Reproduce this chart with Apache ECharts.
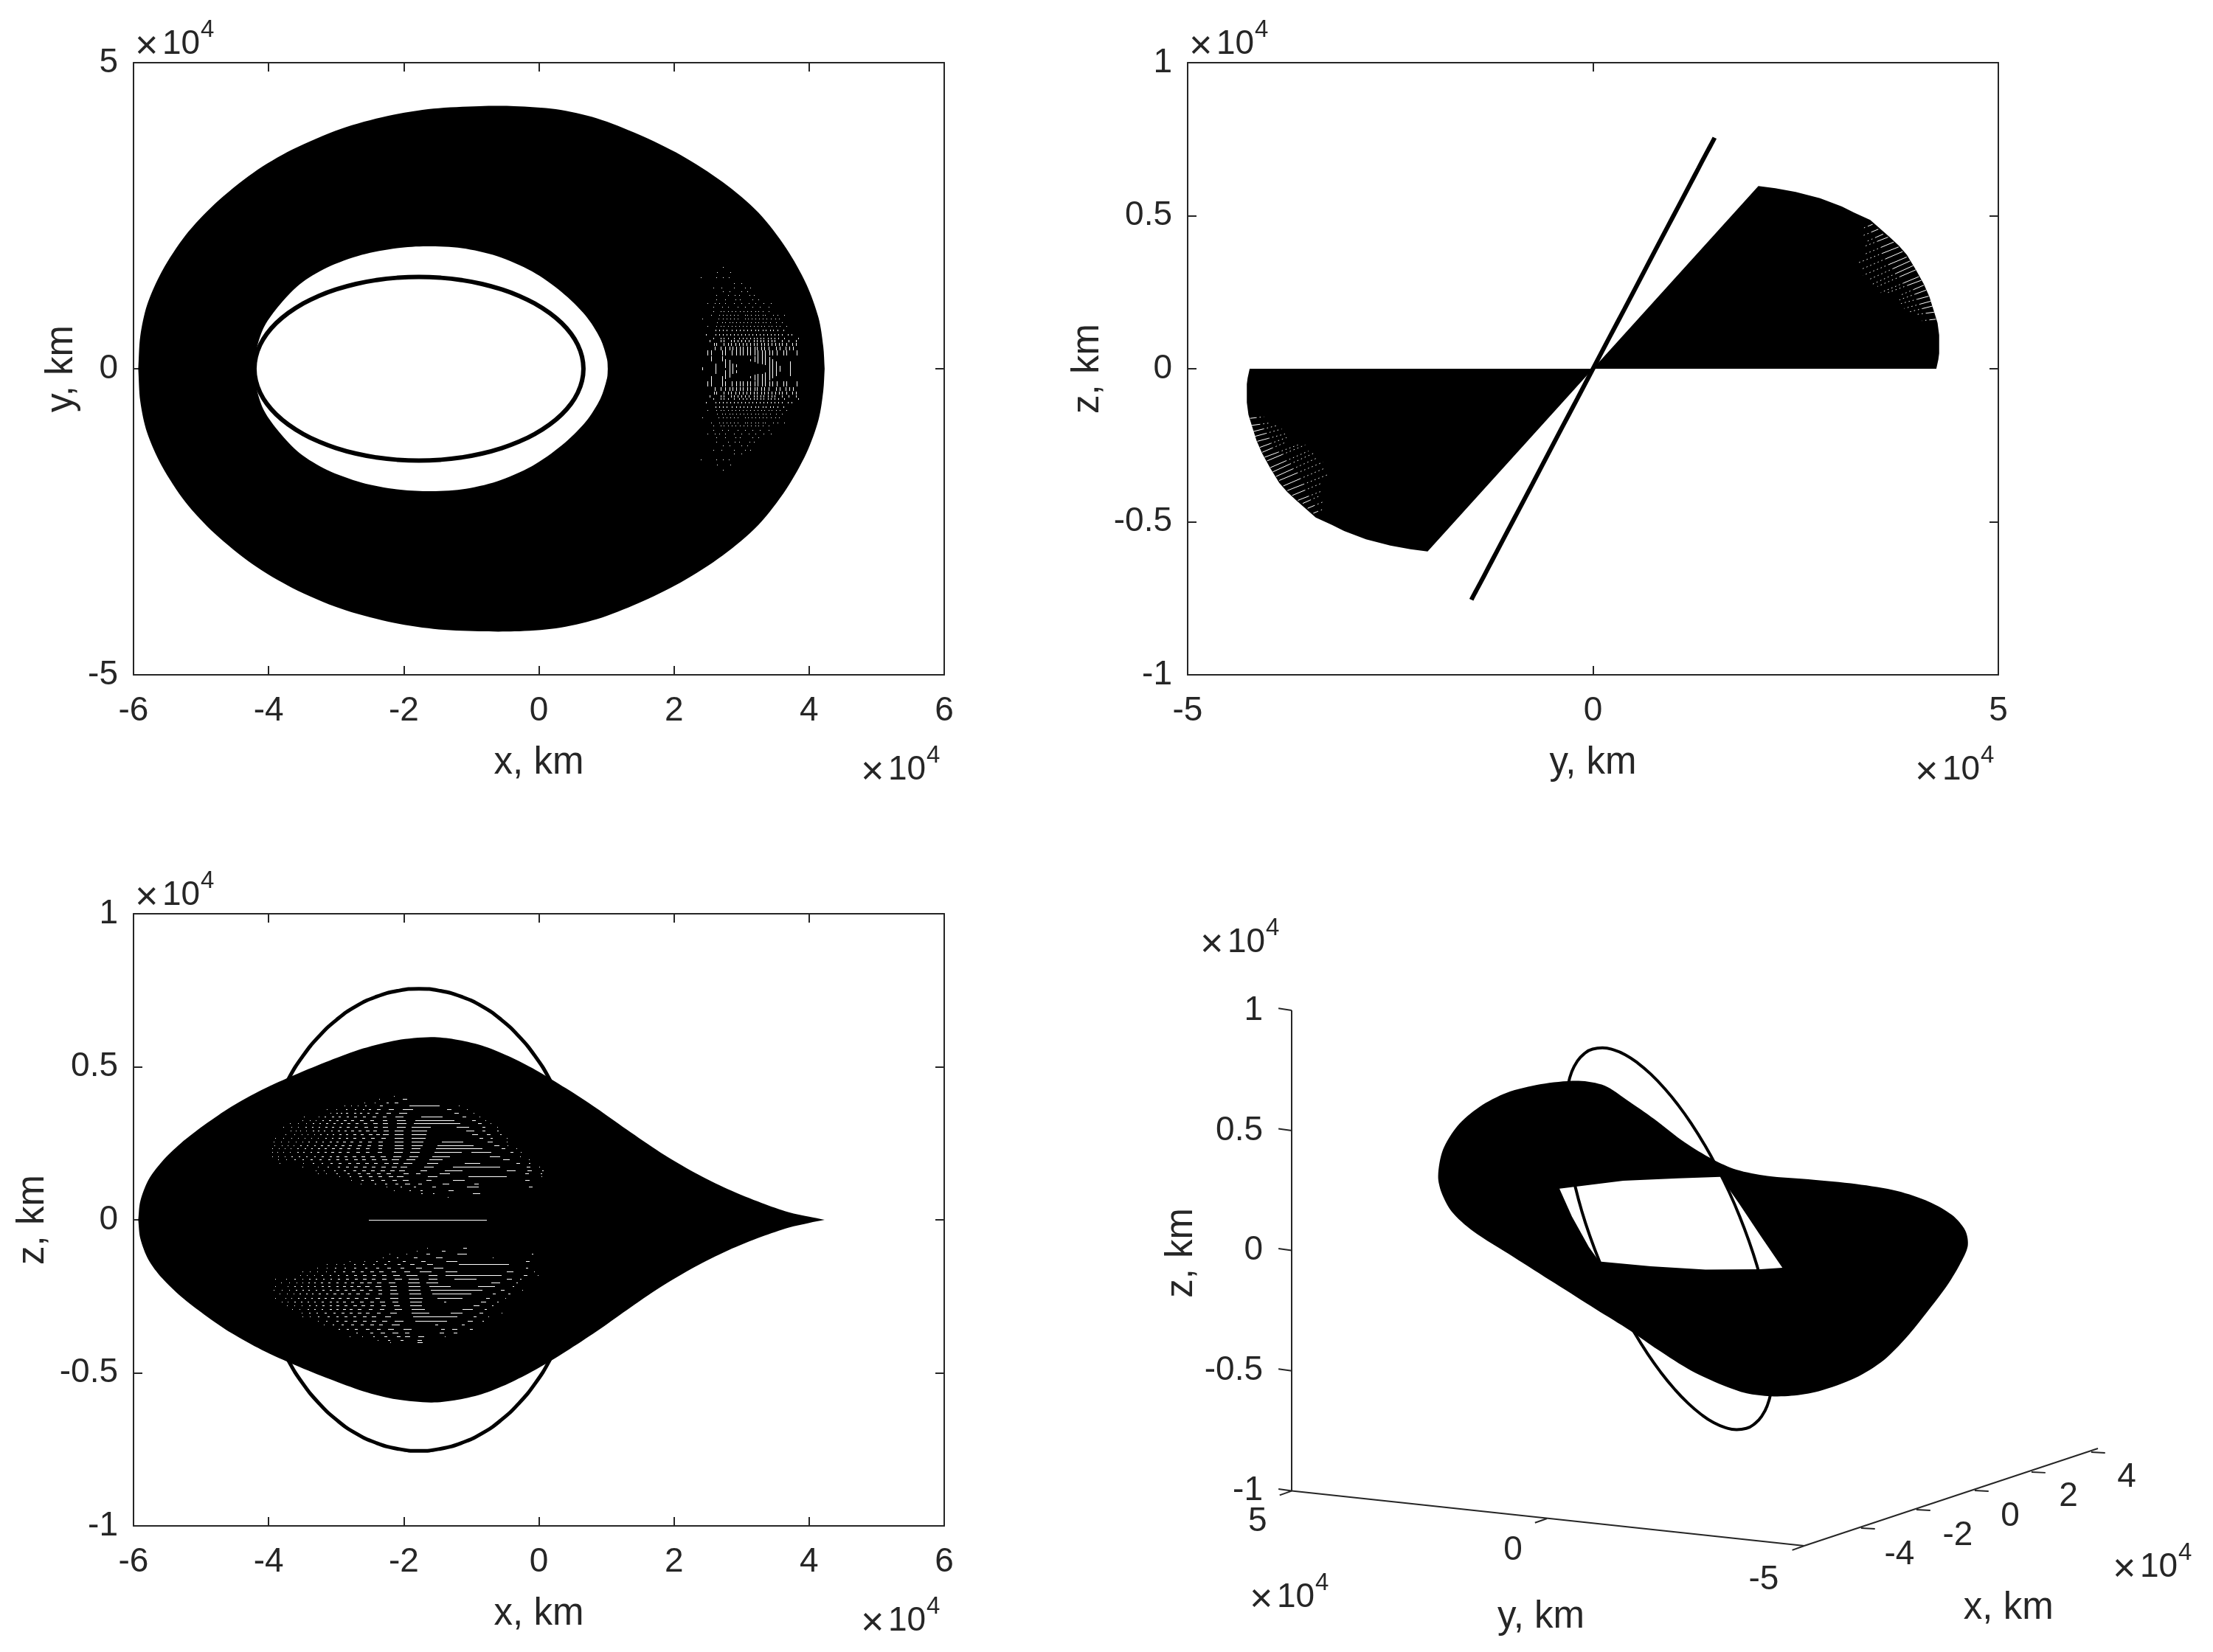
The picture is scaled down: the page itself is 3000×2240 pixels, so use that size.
<!DOCTYPE html>
<html>
<head>
<meta charset="utf-8">
<title>orbit projections</title>
<script src="https://cdn.jsdelivr.net/npm/echarts@6/dist/echarts.min.js"></script>
<style>
  html, body { margin: 0; background: #fff; }
  #chart { width: 3000px; height: 2240px; }
</style>
</head>
<body>
<div id="chart"></div>
<script>
// all values in units of 1e4 km, the axes carry the x10^4 factor

// reference orbit, one lap
const orbitX = [0.66, 0.639, 0.577, 0.475, 0.334, 0.157, -0.053, -0.293, -0.558, -0.843, -1.145, -1.457, -1.775, -2.093, -2.405, -2.707, -2.992, -3.257, -3.497, -3.707, -3.884, -4.025, -4.127, -4.189, -4.21, -4.189, -4.127, -4.025, -3.884, -3.707, -3.497, -3.257, -2.992, -2.707, -2.405, -2.093, -1.775, -1.457, -1.145, -0.843, -0.558, -0.293, -0.053, 0.157, 0.334, 0.475, 0.577, 0.639, 0.66];
const orbitY = [0, 0.196, 0.388, 0.574, 0.75, 0.913, 1.061, 1.19, 1.299, 1.386, 1.449, 1.487, 1.5, 1.487, 1.449, 1.386, 1.299, 1.19, 1.061, 0.913, 0.75, 0.574, 0.388, 0.196, 0, -0.196, -0.388, -0.574, -0.75, -0.913, -1.061, -1.19, -1.299, -1.386, -1.449, -1.487, -1.5, -1.487, -1.449, -1.386, -1.299, -1.19, -1.061, -0.913, -0.75, -0.574, -0.388, -0.196, 0];
const orbitZ = [0, 0.099, 0.195, 0.289, 0.378, 0.46, 0.534, 0.599, 0.654, 0.698, 0.729, 0.748, 0.755, 0.748, 0.729, 0.698, 0.654, 0.599, 0.534, 0.46, 0.378, 0.289, 0.195, 0.099, 0, -0.099, -0.195, -0.289, -0.378, -0.46, -0.534, -0.599, -0.654, -0.698, -0.729, -0.748, -0.755, -0.748, -0.729, -0.698, -0.654, -0.599, -0.534, -0.46, -0.378, -0.289, -0.195, -0.099, 0];

// x-y view: upper half of the band, the lower half mirrors it
const xyOuterX = [-5.93, -5.9, -5.8, -5.58, -5.23, -4.8, -4.23, -3.65, -2.93, -2.24, -1.56, -0.88, -0.36, 0.25, 0.86, 1.47, 2.1, 2.72, 3.25, 3.66, 3.96, 4.14, 4.21, 4.23];
const xyOuterY = [0, 0.53, 1.04, 1.59, 2.18, 2.69, 3.2, 3.58, 3.92, 4.13, 4.25, 4.29, 4.29, 4.24, 4.09, 3.83, 3.49, 3.05, 2.55, 1.97, 1.38, 0.83, 0.36, 0];
const xyInnerX = [-4.21, -4.17, -4.06, -3.84, -3.54, -3.14, -2.62, -2.1, -1.66, -1.14, -0.62, -0.1, 0.34, 0.69, 0.91, 1.01, 1.02];
const xyInnerY = [0, 0.36, 0.7, 1.04, 1.38, 1.65, 1.86, 1.97, 2, 1.97, 1.84, 1.59, 1.25, 0.87, 0.49, 0.15, 0];

// x-y view: gaps in the band, mirrored about y = 0. [y, dash length, x, x, ...]
const xyGapRows = [
  [1.655, 0.01, 2.72], [1.57, 0.01, 2.64, 2.83], [1.48, 0.01, 2.4, 2.63, 2.72, 2.81],
  [1.39, 0.01, 2.89, 3.0], [1.32, 0.01, 2.58, 2.7, 2.89, 3.05, 3.13],
  [1.25, 0.01, 2.72, 2.82, 3.0, 3.09], [1.19, 0.01, 2.63, 2.8, 2.9, 2.96, 3.12, 3.18],
  [1.12, 0.01, 2.63, 2.76, 2.91, 2.98, 3.16, 3.25],
  [1.06, 0.01, 2.5, 2.6, 2.67, 2.76, 2.89, 3.0, 3.11, 3.2, 3.33, 3.43],
  [1.0, 0.01, 2.58, 2.71, 2.8, 2.94, 3.05, 3.16, 3.27, 3.4],
  [0.93, 0.01, 2.58, 2.69, 2.74, 2.8, 2.85, 2.91, 2.98, 3.03, 3.09, 3.14, 3.2, 3.25, 3.31, 3.4],
  [0.875, 0.01, 2.55, 2.67, 2.72, 2.78, 2.83, 2.89, 2.94, 3.05, 3.09, 3.14, 3.2, 3.25, 3.31, 3.35, 3.47, 3.53, 3.63],
  [0.8, 0.015, 2.42, 2.66, 2.72, 2.78, 2.83, 2.89, 2.94, 3.05, 3.1, 3.15, 3.21, 3.26, 3.31, 3.37, 3.43, 3.5, 3.55],
  [0.74, 0.015, 2.64, 2.71, 2.76, 2.82, 2.87, 2.92, 2.98, 3.03, 3.09, 3.14, 3.2, 3.25, 3.31, 3.36, 3.42, 3.51, 3.6],
  [0.68, 0.015, 2.49, 2.63, 2.69, 2.74, 2.8, 2.85, 2.91, 2.96, 3.02, 3.07, 3.13, 3.18, 3.24, 3.29, 3.34, 3.4, 3.45, 3.51, 3.56, 3.66],
  [0.62, 0.02, 2.62, 2.67, 2.72, 2.78, 2.85, 2.92, 2.98, 3.03, 3.09, 3.14, 3.2, 3.25, 3.31, 3.36, 3.42, 3.47, 3.53, 3.62],
  [0.54, 0.025, 2.47, 2.62, 2.67, 2.72, 2.78, 2.83, 2.89, 2.94, 3.0, 3.05, 3.11, 3.16, 3.22, 3.27, 3.33, 3.38, 3.43, 3.49, 3.54, 3.6, 3.69, 3.74],
  [0.48, 0.03, 2.58, 2.69, 2.74, 2.8, 2.89, 2.96, 3.02, 3.07, 3.13, 3.18, 3.23, 3.28, 3.33, 3.39, 3.43, 3.49, 3.54, 3.63, 3.84],
  [0.43, 0.04, 2.53, 2.69, 2.74, 2.84, 2.89, 2.94, 3.0, 3.05, 3.11, 3.18, 3.23, 3.28, 3.33, 3.39, 3.44, 3.49, 3.6, 3.7, 3.8],
  [0.37, 0.05, 2.59, 2.63, 2.74, 2.8, 2.84, 2.91, 2.96, 3.02, 3.07, 3.13, 3.18, 3.23, 3.29, 3.34, 3.39, 3.45, 3.5, 3.55, 3.6, 3.66, 3.75, 3.81],
  [0.3, 0.06, 2.6, 2.69, 2.76, 2.82, 2.87, 2.92, 2.98, 3.02, 3.08, 3.13, 3.19, 3.23, 3.29, 3.34, 3.4, 3.51, 3.56, 3.65, 3.71, 3.76],
  [0.21, 0.09, 2.5, 2.55, 2.71, 2.76, 2.86, 2.92, 2.97, 3.02, 3.08, 3.13, 3.19, 3.24, 3.3, 3.35, 3.41, 3.46, 3.52, 3.62, 3.66, 3.82]
];
// x-y view: long gaps next to the y = 0 line. [x, y from, y to]
const xyGapColumns = [
  [2.42, 0, 0.02], [2.55, 0.12, 0.2], [2.61, 0, 0.08], [2.71, 0.12, 0.21], [2.76, 0.02, 0.16], [2.82, 0, 0.14], [2.87, 0, 0.08],
  [2.92, 0.02, 0.07], [3.13, 0.12, 0.16], [3.19, 0.1, 0.2], [3.24, 0.09, 0.22], [3.3, 0.08, 0.22], [3.35, 0.06, 0.22],
  [3.41, 0, 0.19], [3.46, 0, 0.16], [3.51, 0, 0.12], [3.57, 0, 0.05], [3.72, 0, 0.12]
];

// y-z view: upper right wedge, the other wedge is the same turned through 180 degrees
const yzWedgeY = [0, 4.235, 4.26, 4.27, 4.27, 4.25, 4.2, 4.15, 4.08, 3.98, 3.87, 3.77, 3.66, 3.42, 3.22, 3.07, 2.8, 2.5, 2.25, 2.04];
const yzWedgeZ = [0, 0, 0.03, 0.05, 0.11, 0.15, 0.193, 0.235, 0.277, 0.325, 0.373, 0.403, 0.43, 0.486, 0.51, 0.53, 0.557, 0.578, 0.59, 0.597];
// y-z view: white slits along the wedge rim. [y1, z1, y2, z2], 1 = rim end
const yzSlits = [
  [3.45, 0.472, 3.33, 0.459], [3.52, 0.456, 3.33, 0.435], [3.58, 0.44, 3.36, 0.414], [3.64, 0.43, 3.33, 0.398],
  [3.71, 0.414, 3.34, 0.373], [3.77, 0.398, 3.28, 0.347], [3.82, 0.383, 3.31, 0.325], [3.87, 0.365, 3.33, 0.305],
  [3.91, 0.352, 3.4, 0.291], [3.95, 0.337, 3.42, 0.273], [3.98, 0.323, 3.51, 0.269], [4.02, 0.301, 3.55, 0.249],
  [4.05, 0.289, 3.64, 0.249], [4.08, 0.273, 3.78, 0.239], [4.11, 0.257, 3.78, 0.225], [4.14, 0.237, 3.8, 0.213],
  [4.17, 0.221, 3.84, 0.197], [4.19, 0.205, 3.89, 0.185], [4.21, 0.185, 3.98, 0.177], [4.23, 0.162, 4.06, 0.157]
];

// x-z view: upper half of the band, the lower half mirrors it
const xzOuterX = [-5.93, -5.9, -5.78, -5.58, -5.3, -4.95, -4.55, -4.1, -3.6, -3.1, -2.6, -2.1, -1.6, -1.25, -0.85, -0.45, -0.05, 0.4, 0.85, 1.3, 1.8, 2.3, 2.8, 3.3, 3.7, 4.0, 4.23];
const xzOuterZ = [0, 0.06, 0.13, 0.19, 0.25, 0.31, 0.37, 0.425, 0.475, 0.52, 0.56, 0.587, 0.597, 0.59, 0.57, 0.535, 0.49, 0.43, 0.365, 0.295, 0.22, 0.155, 0.1, 0.055, 0.025, 0.01, 0];

// x-z view: gaps in the band, upper lobe. [z, x from, x to, x from, x to, ...]
const xzUpperRows = [
  [0.405, -2.15, -2.14],
  [0.394, -2.36, -2.35, -2.01, -1.94],
  [0.382, -2.58, -2.57, -2.43, -2.42, -2.26, -2.23, -2.14, -2.08],
  [0.373, -2.88, -2.87, -2.78, -2.77, -2.68, -2.67, -2.57, -2.55, -2.35, -2.31, -1.92, -1.47, -1.18, -1.17],
  [0.361, -3.14, -3.13, -3, -2.99, -2.85, -2.83, -2.72, -2.7, -2.6, -2.58, -2.52, -2.49, -2.4, -2.34, -2.22, -2.14, -2.02, -1.87, -1.36, -1.29, -1.07, -1.06],
  [0.349, -3.09, -3.08, -3, -2.98, -2.93, -2.91, -2.85, -2.82, -2.74, -2.71, -2.65, -2.62, -2.54, -2.51, -2.42, -2.38, -2.26, -2.19, -2.07, -1.95, -1.25, -1.18, -0.97, -0.96],
  [0.338, -3.48, -3.47, -3.26, -3.25, -3.17, -3.15, -3.06, -3.03, -2.96, -2.93, -2.84, -2.81, -2.73, -2.69, -2.6, -2.56, -2.46, -2.41, -2.31, -2.25, -2.12, -2, -1.74, -1.42, -1.13, -1.07, -0.88, -0.87],
  [0.326, -3.5, -3.49, -3.39, -3.38, -3.3, -3.29, -3.2, -3.18, -3.11, -3.08, -3, -2.97, -2.89, -2.85, -2.78, -2.74, -2.65, -2.6, -2.5, -2.44, -2.31, -2.24, -2.1, -1.97, -1.83, -1.25, -0.99, -0.93, -0.79, -0.78],
  [0.315, -3.68, -3.67, -3.56, -3.55, -3.45, -3.44, -3.35, -3.33, -3.25, -3.23, -3.15, -3.12, -3.04, -3.01, -2.93, -2.9, -2.83, -2.79, -2.71, -2.67, -2.59, -2.54, -2.45, -2.38, -2.31, -2.23, -2.1, -1.96, -1.85, -1.16, -0.9, -0.84, -0.71, -0.7],
  [0.303, -3.78, -3.77, -3.66, -3.65, -3.56, -3.55, -3.46, -3.44, -3.36, -3.34, -3.26, -3.24, -3.16, -3.13, -3.06, -3.03, -2.95, -2.92, -2.84, -2.8, -2.72, -2.68, -2.58, -2.53, -2.44, -2.38, -2.31, -2.23, -2.1, -1.97, -1.88, -1.6, -1.22, -1.03, -0.84, -0.8, -0.62, -0.61],
  [0.291, -3.67, -3.66, -3.6, -3.59, -3.53, -3.52, -3.44, -3.43, -3.35, -3.33, -3.27, -3.25, -3.18, -3.16, -3.07, -3.05, -2.98, -2.95, -2.88, -2.85, -2.78, -2.74, -2.67, -2.63, -2.56, -2.51, -2.45, -2.39, -2.3, -2.22, -2.13, -2, -1.88, -1.65, -1.08, -0.96, -0.83, -0.79, -0.62, -0.6],
  [0.279, -3.75, -3.74, -3.62, -3.61, -3.51, -3.5, -3.42, -3.41, -3.33, -3.32, -3.24, -3.22, -3.14, -3.12, -3.05, -3.03, -2.95, -2.92, -2.85, -2.82, -2.75, -2.71, -2.64, -2.6, -2.52, -2.47, -2.41, -2.35, -2.31, -2.22, -2.13, -2, -1.88, -1.66, -0.99, -0.9, -0.77, -0.72, -0.57, -0.55],
  [0.267, -3.9, -3.89, -3.78, -3.77, -3.66, -3.65, -3.56, -3.55, -3.47, -3.46, -3.37, -3.36, -3.27, -3.26, -3.16, -3.14, -3.06, -3.04, -2.96, -2.93, -2.86, -2.83, -2.75, -2.71, -2.62, -2.58, -2.48, -2.43, -2.33, -2.26, -2.13, -2, -1.88, -1.67, -0.88, -0.83, -0.72, -0.69, -0.47, -0.46],
  [0.255, -3.93, -3.92, -3.82, -3.81, -3.71, -3.7, -3.6, -3.59, -3.5, -3.49, -3.41, -3.39, -3.3, -3.28, -3.2, -3.18, -3.1, -3.07, -3, -2.97, -2.9, -2.86, -2.79, -2.75, -2.66, -2.62, -2.53, -2.47, -2.37, -2.3, -2.14, -2.01, -1.88, -1.7, -1.44, -1.12, -0.76, -0.68, -0.48, -0.47],
  [0.244, -3.91, -3.9, -3.8, -3.79, -3.72, -3.71, -3.63, -3.62, -3.53, -3.51, -3.43, -3.41, -3.33, -3.31, -3.23, -3.2, -3.13, -3.1, -3.02, -2.99, -2.92, -2.88, -2.81, -2.77, -2.68, -2.63, -2.54, -2.48, -2.37, -2.3, -2.14, -2.01, -1.88, -1.72, -1.5, -0.96, -0.66, -0.58, -0.46, -0.45],
  [0.233, -3.95, -3.94, -3.85, -3.84, -3.76, -3.75, -3.67, -3.66, -3.58, -3.56, -3.47, -3.45, -3.37, -3.35, -3.27, -3.24, -3.17, -3.14, -3.06, -3.02, -2.95, -2.91, -2.83, -2.79, -2.7, -2.65, -2.56, -2.5, -2.38, -2.32, -2.14, -2.01, -1.88, -1.75, -1.52, -0.83, -0.55, -0.5, -0.33, -0.32],
  [0.221, -3.95, -3.94, -3.87, -3.86, -3.78, -3.77, -3.68, -3.67, -3.58, -3.56, -3.49, -3.47, -3.38, -3.36, -3.28, -3.25, -3.17, -3.14, -3.07, -3.03, -2.96, -2.92, -2.84, -2.8, -2.7, -2.65, -2.56, -2.5, -2.39, -2.32, -2.15, -2.02, -1.9, -1.76, -1.55, -1.15, -1, -0.7, -0.42, -0.38, -0.27, -0.26],
  [0.208, -3.95, -3.94, -3.86, -3.85, -3.76, -3.75, -3.66, -3.64, -3.55, -3.53, -3.44, -3.42, -3.33, -3.31, -3.22, -3.19, -3.1, -3.07, -3, -2.96, -2.88, -2.84, -2.76, -2.71, -2.63, -2.58, -2.5, -2.43, -2.34, -2.26, -2.16, -2.04, -1.92, -1.79, -1.58, -1.32, -0.73, -0.58, -0.28, -0.27],
  [0.197, -3.86, -3.85, -3.74, -3.73, -3.62, -3.6, -3.5, -3.48, -3.38, -3.35, -3.25, -3.22, -3.12, -3.09, -3, -2.96, -2.87, -2.83, -2.74, -2.69, -2.61, -2.55, -2.47, -2.4, -2.32, -2.24, -2.18, -2.07, -1.96, -1.83, -1.62, -1.42, -0.53, -0.43, -0.15, -0.14],
  [0.185, -3.84, -3.83, -3.49, -3.48, -3.35, -3.33, -3.22, -3.2, -3.08, -3.05, -2.96, -2.92, -2.82, -2.78, -2.7, -2.65, -2.57, -2.52, -2.44, -2.38, -2.29, -2.22, -2.16, -2.08, -2, -1.87, -1.65, -1.49, -1.1, -0.87, -0.33, -0.28, -0.15, -0.13],
  [0.174, -3.5, -3.49, -3.27, -3.26, -3.13, -3.11, -2.98, -2.95, -2.86, -2.82, -2.73, -2.68, -2.6, -2.54, -2.47, -2.41, -2.33, -2.26, -2.18, -2.1, -2.05, -1.95, -1.7, -1.56, -1.27, -0.57, -0.18, -0.13, 0.0, 0.01],
  [0.162, -3.3, -3.29, -3.18, -3.17, -3.03, -3.01, -2.89, -2.86, -2.75, -2.71, -2.62, -2.57, -2.48, -2.43, -2.34, -2.27, -2.2, -2.13, -2.07, -1.98, -1.75, -1.65, -1.39, -1.13, -0.48, -0.35, -0.17, -0.1, 0.05, 0.07],
  [0.151, -3.27, -3.26, -3.15, -3.14, -3, -2.98, -2.83, -2.8, -2.68, -2.64, -2.55, -2.5, -2.4, -2.34, -2.25, -2.18, -2.0, -1.92, -1.82, -1.75, -1.47, -1.32, -0.2, -0.14, 0.03, 0.05],
  [0.141, -2.95, -2.94, -2.8, -2.78, -2.66, -2.62, -2.52, -2.47, -2.38, -2.32, -2.22, -2.15, -2.1, -2.0, -1.64, -1.5, -1.04, -0.47, 0.04, 0.05],
  [0.129, -2.78, -2.77, -2.63, -2.6, -2.48, -2.44, -2.33, -2.27, -2.17, -2.1, -2.02, -1.93, -1.66, -1.58, -1.27, -1.09, -0.2, -0.13],
  [0.117, -2.64, -2.63, -2.43, -2.41, -2.28, -2.25, -2.12, -2.08, -1.98, -1.9, -1.78, -1.72, -1.43, -1.33, -0.95, -0.88],
  [0.108, -2.25, -2.24, -2.05, -2.03, -1.85, -1.82, -1.58, -1.53, -1.07, -0.9, -0.15, -0.1],
  [0.096, -2.15, -2.14, -1.92, -1.9, -1.75, -1.72, -1.34, -1.26],
  [0.086, -1.74, -1.72, -1.57, -1.55, -0.98, -0.87],
  [0.074, -1.35, -1.34],
  [0.001, -2.52, -0.77]
];
// x-z view: gaps in the band, lower lobe
const xzLowerRows = [
  [-0.092, -1.65, -1.64, -1.12, -1.06],
  [-0.101, -1.81, -1.8, -1.44, -1.38],
  [-0.112, -2.21, -2.2, -1.96, -1.95, -1.66, -1.61, -1.21, -1.07, -0.1, -0.08],
  [-0.123, -2.31, -2.3, -2.1, -2.08, -1.85, -1.8, -1.52, -1.42, -0.68, -0.67],
  [-0.135, -2.8, -2.79, -2.58, -2.57, -2.41, -2.39, -2.23, -2.2, -2.01, -1.97, -1.74, -1.67, -1.37, -1.21, -0.19, -0.14],
  [-0.145, -3.14, -3.13, -3.0, -2.99, -2.89, -2.88, -2.74, -2.72, -2.6, -2.58, -2.45, -2.43, -2.29, -2.26, -2.09, -2.05, -1.91, -1.84, -1.65, -1.56, -1.18, -0.44],
  [-0.157, -3.28, -3.27, -3.14, -3.13, -3.02, -3, -2.88, -2.86, -2.73, -2.7, -2.57, -2.54, -2.41, -2.37, -2.24, -2.19, -2.05, -1.99, -1.82, -1.73, -1.56, -1.42, -0.19, -0.16],
  [-0.168, -3.5, -3.49, -3.39, -3.38, -3.28, -3.27, -3.15, -3.14, -3.03, -3.01, -2.9, -2.87, -2.77, -2.73, -2.64, -2.6, -2.5, -2.45, -2.36, -2.29, -2.18, -2.11, -1.99, -1.9, -1.76, -1.58, -1.38, -1.2, -0.47, -0.37, -0.07, -0.06],
  [-0.18, -3.53, -3.52, -3.43, -3.42, -3.33, -3.32, -3.22, -3.2, -3.1, -3.08, -2.98, -2.96, -2.86, -2.83, -2.74, -2.7, -2.6, -2.55, -2.46, -2.4, -2.32, -2.25, -2.16, -2.06, -1.96, -1.8, -1.63, -1.5, -1.38, -0.55, -0.22, -0.17, -0.02, -0.01],
  [-0.193, -3.9, -3.89, -3.74, -3.73, -3.62, -3.6, -3.5, -3.49, -3.4, -3.38, -3.3, -3.28, -3.19, -3.17, -3.08, -3.06, -2.98, -2.95, -2.85, -2.81, -2.72, -2.68, -2.6, -2.55, -2.47, -2.42, -2.32, -2.25, -2.13, -2.02, -1.93, -1.78, -1.63, -1.5, -1.25, -0.92, -0.47, -0.39, -0.28, -0.26],
  [-0.205, -3.82, -3.81, -3.7, -3.69, -3.59, -3.58, -3.5, -3.49, -3.41, -3.39, -3.32, -3.3, -3.23, -3.2, -3.12, -3.09, -3, -2.97, -2.88, -2.85, -2.78, -2.74, -2.65, -2.6, -2.54, -2.47, -2.4, -2.33, -2.22, -2.12, -1.94, -1.77, -1.66, -1.48, -0.7, -0.57, -0.33, -0.31],
  [-0.217, -3.9, -3.89, -3.72, -3.71, -3.62, -3.6, -3.52, -3.5, -3.42, -3.4, -3.32, -3.3, -3.22, -3.19, -3.12, -3.09, -3, -2.97, -2.9, -2.86, -2.79, -2.75, -2.69, -2.64, -2.57, -2.5, -2.42, -2.33, -2.2, -2.1, -1.93, -1.76, -1.62, -1.3, -0.9, -0.65, -0.39, -0.37],
  [-0.23, -3.92, -3.91, -3.8, -3.79, -3.7, -3.69, -3.6, -3.58, -3.5, -3.48, -3.41, -3.39, -3.3, -3.28, -3.2, -3.17, -3.1, -3.07, -3, -2.96, -2.88, -2.84, -2.77, -2.72, -2.65, -2.6, -2.52, -2.46, -2.38, -2.33, -2.2, -2.1, -1.93, -1.75, -1.6, -0.84, -0.56, -0.5, -0.25, -0.24],
  [-0.242, -3.84, -3.83, -3.73, -3.72, -3.63, -3.62, -3.54, -3.52, -3.45, -3.43, -3.36, -3.34, -3.26, -3.23, -3.15, -3.12, -3.04, -3, -2.93, -2.89, -2.82, -2.78, -2.7, -2.65, -2.56, -2.5, -2.38, -2.32, -2.2, -2.08, -1.92, -1.75, -1.58, -1, -0.68, -0.64, -0.45, -0.42],
  [-0.255, -3.9, -3.89, -3.75, -3.74, -3.66, -3.65, -3.57, -3.55, -3.47, -3.45, -3.37, -3.35, -3.27, -3.24, -3.17, -3.14, -3.07, -3.03, -2.96, -2.92, -2.84, -2.8, -2.72, -2.67, -2.58, -2.52, -2.42, -2.35, -2.2, -2.08, -1.92, -1.72, -1.5, -1.13, -0.78, -0.72, -0.5, -0.49],
  [-0.267, -3.8, -3.79, -3.72, -3.71, -3.62, -3.6, -3.52, -3.5, -3.42, -3.4, -3.32, -3.3, -3.22, -3.19, -3.1, -3.07, -3, -2.97, -2.9, -2.86, -2.78, -2.74, -2.65, -2.6, -2.5, -2.44, -2.35, -2.27, -2.17, -2.08, -1.9, -1.73, -1.4, -1.37, -0.86, -0.78, -0.62, -0.6],
  [-0.279, -3.73, -3.72, -3.62, -3.61, -3.51, -3.5, -3.4, -3.38, -3.3, -3.28, -3.2, -3.17, -3.1, -3.07, -3, -2.96, -2.88, -2.84, -2.75, -2.7, -2.63, -2.58, -2.5, -2.44, -2.33, -2.26, -2.15, -2.06, -1.9, -1.72, -0.97, -0.88, -0.69, -0.67],
  [-0.291, -3.65, -3.64, -3.54, -3.53, -3.42, -3.4, -3.32, -3.3, -3.22, -3.2, -3.1, -3.07, -3, -2.97, -2.9, -2.86, -2.8, -2.76, -2.68, -2.63, -2.52, -2.46, -2.35, -2.28, -2.13, -2.02, -1.88, -1.68, -1.13, -0.98, -0.8, -0.77],
  [-0.304, -3.51, -3.5, -3.4, -3.38, -3.29, -3.27, -3.17, -3.14, -3.04, -3.01, -2.92, -2.88, -2.8, -2.76, -2.68, -2.63, -2.56, -2.5, -2.4, -2.34, -2.2, -2.1, -1.88, -1.62, -1.3, -1.13, -0.88, -0.83, -0.55, -0.54],
  [-0.316, -3.5, -3.49, -3.39, -3.38, -3.27, -3.25, -3.13, -3.1, -3, -2.97, -2.88, -2.84, -2.75, -2.71, -2.6, -2.55, -2.47, -2.4, -2.28, -2.19, -1.86, -1.2, -0.97, -0.93, -0.75, -0.74],
  [-0.329, -3.27, -3.26, -3.15, -3.13, -3.0, -2.97, -2.88, -2.84, -2.75, -2.7, -2.6, -2.54, -2.47, -2.4, -2.32, -2.24, -2.13, -2.0, -1.83, -1.36, -1.05, -0.97, -0.83, -0.81],
  [-0.341, -3.18, -3.17, -3.05, -3.03, -2.92, -2.89, -2.78, -2.74, -2.64, -2.6, -2.5, -2.44, -2.36, -2.3, -2.18, -2.06, -1.53, -1.49, -1.14, -1.1],
  [-0.356, -2.96, -2.94, -2.84, -2.81, -2.72, -2.68, -2.56, -2.5, -2.4, -2.34, -2.23, -2.14, -2.0, -1.88, -1.45, -1.4, -1.28, -1.2, -1.02, -0.98],
  [-0.368, -2.7, -2.68, -2.5, -2.46, -2.34, -2.27, -2.17, -2.08, -1.98, -1.91, -1.47, -1.4, -1.26, -1.21],
  [-0.38, -2.8, -2.79, -2.62, -2.61, -2.45, -2.43, -2.29, -2.25, -2.1, -2.04, -1.98, -1.9, -1.79, -1.7, -1.39, -1.38],
  [-0.393, -2.39, -2.38, -2.23, -2.2, -2.05, -2.01, -1.8, -1.73],
  [-0.4, -2.2, -2.19, -1.8, -1.72]
];

// 3d view: silhouette of the band on the screen plane, same units
const viewOutlineU = [-1.069, -1.049, -0.989, -0.897, -0.783, -0.64, -0.483, -0.375, -0.283, -0.168, -0.039, 0.075, 0.175, 0.304, 0.475, 0.676, 0.847, 0.98, 1.075, 1.13, 1.14, 1.105, 1.05, 0.97, 0.885, 0.79, 0.67, 0.518, 0.404, 0.318, 0.218, 0.118, -0.011, -0.154, -0.268, -0.411, -0.583, -0.754, -0.926, -1.012, -1.055];
const viewOutlineV = [0.223, 0.332, 0.431, 0.511, 0.57, 0.606, 0.62, 0.6, 0.541, 0.461, 0.362, 0.293, 0.249, 0.223, 0.209, 0.189, 0.16, 0.115, 0.06, -0.005, -0.07, -0.15, -0.24, -0.345, -0.45, -0.545, -0.62, -0.675, -0.694, -0.696, -0.684, -0.65, -0.591, -0.501, -0.422, -0.333, -0.224, -0.115, -0.005, 0.074, 0.154];
const viewHoleU = [-0.563, -0.297, -0.068, 0.109, 0.189, 0.275, 0.367, 0.275, 0.046, -0.182, -0.397, -0.44, -0.511];
const viewHoleV = [0.17, 0.203, 0.213, 0.219, 0.104, -0.025, -0.16, -0.166, -0.168, -0.154, -0.134, -0.074, 0.054];

// 3d view: box edges, ticks and tick labels
const viewAxisLines = [[-1.68, 0.914, -1.68, -1.091], [-1.68, -1.091, 0.458, -1.32], [0.458, -1.32, 1.683, -0.914]];
const zTickLabels = ['1', '0.5', '0', '-0.5', '-1'];
const zTickV = [0.914, 0.412, -0.088, -0.59, -1.091];
const yTickLabels = ['5', '0', '-5'];
const yTickU = [-1.68, -0.615, 0.458];
const yTickV = [-1.091, -1.206, -1.32];
const yLabelU = [-1.822, -0.757, 0.289];
const yLabelV = [-1.218, -1.338, -1.462];
const xTickLabels = ['-4', '-2', '0', '2', '4'];
const xTickU = [0.695, 0.926, 1.169, 1.406, 1.655];
const xTickV = [-1.246, -1.169, -1.089, -1.012, -0.929];
const xLabelU = [0.855, 1.098, 1.317, 1.56, 1.803];
const xLabelV = [-1.357, -1.277, -1.197, -1.114, -1.034];

const TEXT = '#262626';
const FONT = 'Liberation Sans';
const FS = 46;
const NAME_FS = 51;

const zip = (a, b) => a.map((v, i) => [v, b[i]]);
// close an upper half outline with its mirror image
const mirrored = (a, b) => zip(a, b).concat(zip(a, b).reverse().map(p => [p[0], -p[1]]));
// the orbit as the 3d box shows it, orthographic view
const viewOrbit = orbitX.map((x, i) => [
  0.109 + 0.12 * x - 0.2138 * orbitY[i],
  0.03 + 0.0388 * x + 0.0229 * orbitY[i] + 1.0025 * orbitZ[i]
]);

// a filled outline in data units, drawn through the axes of the panel
function area(panel, pts, fill, smooth) {
  return {
    type: 'custom', xAxisIndex: panel.x, yAxisIndex: panel.y, silent: true, clip: false, data: [[0, 0]],
    renderItem: (params, api) => ({
      type: 'polygon',
      shape: { points: pts.map(p => api.coord(p)), smooth: smooth || 0 },
      style: { fill: fill }
    })
  };
}

function orbit(panel, pts, width) {
  return {
    type: 'line', xAxisIndex: panel.x, yAxisIndex: panel.y, data: pts, showSymbol: false, smooth: 0.5,
    silent: true, lineStyle: { color: '#000', width: width }
  };
}

// white one pixel gaps in the band, [x1, y1, x2, y2]
function gaps(panel, segs) {
  return {
    type: 'custom', xAxisIndex: panel.x, yAxisIndex: panel.y, silent: true, clip: false, data: [[0, 0]],
    renderItem: (params, api) => ({
      type: 'group',
      children: segs.map(s => {
        const a = api.coord([s[0], s[1]]);
        const b = api.coord([s[2], s[3]]);
        const x = Math.round(Math.min(a[0], b[0]));
        const y = Math.round(Math.min(a[1], b[1]));
        return {
          type: 'rect',
          shape: { x: x, y: y, width: Math.max(1, Math.round(Math.abs(a[0] - b[0]))), height: Math.max(1, Math.round(Math.abs(a[1] - b[1]))) },
          style: { fill: '#fff' }
        };
      })
    })
  };
}

// thin straight lines, [x1, y1, x2, y2]
function strokes(panel, segs, color, width, dash) {
  return {
    type: 'custom', xAxisIndex: panel.x, yAxisIndex: panel.y, silent: true, clip: false, data: [[0, 0]],
    renderItem: (params, api) => ({
      type: 'group',
      children: segs.map(s => {
        const a = api.coord([s[0], s[1]]);
        const b = api.coord([s[2], s[3]]);
        return {
          type: 'line',
          shape: { x1: a[0], y1: a[1], x2: b[0], y2: b[1] },
          style: { stroke: color, lineWidth: width, lineDash: dash || null }
        };
      })
    })
  };
}

// tick and axis labels of the 3d view
function viewTexts(panel, items) {
  return {
    type: 'custom', xAxisIndex: panel.x, yAxisIndex: panel.y, silent: true, clip: false, data: [[0, 0]],
    renderItem: (params, api) => ({
      type: 'group',
      children: items.map(t => {
        const c = api.coord([t.u, t.v]);
        return {
          type: 'text', x: c[0], y: c[1], rotation: t.rotate || 0,
          style: { text: t.text, font: (t.size || FS) + 'px "' + FONT + '"', fill: TEXT, align: t.align || 'center', verticalAlign: 'middle' }
        };
      })
    })
  };
}

function rowsToSegments(rows) {
  const out = [];
  rows.forEach(r => {
    for (let i = 1; i < r.length; i += 2) out.push([r[i], r[0], r[i + 1], r[0]]);
  });
  return out;
}

// build the gap segments of the x-y view
const xyGaps = [];
xyGapRows.forEach(r => {
  for (let i = 2; i < r.length; i++) {
    xyGaps.push([r[i], r[0], r[i], r[0] + r[1]]);
    xyGaps.push([r[i], -r[0], r[i], -r[0] - r[1]]);
  }
});
xyGapColumns.forEach(c => {
  xyGaps.push([c[0], c[1], c[0], c[2]]);
  xyGaps.push([c[0], -c[1], c[0], -c[2]]);
});

// the y-z slits are solid next to the rim and dotted further in
const yzSolid = [];
const yzDotted = [];
yzSlits.forEach(s => {
  const m = [s[0] + (s[2] - s[0]) * 0.4, s[1] + (s[3] - s[1]) * 0.4];
  yzSolid.push([s[0], s[1], m[0], m[1]], [-s[0], -s[1], -m[0], -m[1]]);
  yzDotted.push([m[0], m[1], s[2], s[3]], [-m[0], -m[1], -s[2], -s[3]]);
});
const yzWedge = zip(yzWedgeY, yzWedgeZ);
const yzWedgeTurned = yzWedge.map(p => [-p[0], -p[1]]);

// one boxed 2d panel, two axes each way so that the ticks show on all four sides
const grids = [
  { left: 181, top: 85, width: 1099, height: 830 },
  { left: 1610, top: 85, width: 1099, height: 830 },
  { left: 181, top: 1239, width: 1099, height: 830 },
  { left: 1582, top: 1277, width: 1397.5, height: 942.5 }
];
const xAxes = [];
const yAxes = [];
const labelStyle = { color: TEXT, fontFamily: FONT, fontSize: FS };
const nameStyle = { color: TEXT, fontFamily: FONT, fontSize: NAME_FS };
function boxedAxes(grid, xr, yr, xName, yName, yGap) {
  const line = { show: true, onZero: false, lineStyle: { color: TEXT, width: 2 } };
  const tick = { show: true, inside: true, length: 12, lineStyle: { color: TEXT, width: 2 } };
  const panel = { x: xAxes.length, y: yAxes.length };
  xAxes.push({
    gridIndex: grid, type: 'value', position: 'bottom', min: xr[0], max: xr[1], interval: xr[2], axisLine: line, axisTick: tick,
    splitLine: { show: false }, axisLabel: Object.assign({ margin: 26 }, labelStyle),
    name: xName, nameLocation: 'middle', nameGap: 94, nameTextStyle: nameStyle
  });
  xAxes.push({
    gridIndex: grid, type: 'value', position: 'top', min: xr[0], max: xr[1], interval: xr[2], axisLine: line, axisTick: tick,
    splitLine: { show: false }, axisLabel: { show: false }
  });
  yAxes.push({
    gridIndex: grid, type: 'value', position: 'left', min: yr[0], max: yr[1], interval: yr[2], axisLine: line, axisTick: tick,
    splitLine: { show: false }, axisLabel: Object.assign({ margin: 21 }, labelStyle),
    name: yName, nameLocation: 'middle', nameGap: yGap, nameTextStyle: nameStyle
  });
  yAxes.push({
    gridIndex: grid, type: 'value', position: 'right', min: yr[0], max: yr[1], interval: yr[2], axisLine: line, axisTick: tick,
    splitLine: { show: false }, axisLabel: { show: false }
  });
  return panel;
}

const xyPanel = boxedAxes(0, [-6, 6, 2], [-5, 5, 5], 'x, km', 'y, km', 72);
const yzPanel = boxedAxes(1, [-5, 5, 5], [-1, 1, 0.5], 'y, km', 'z, km', 110);
const xzPanel = boxedAxes(2, [-6, 6, 2], [-1, 1, 0.5], 'x, km', 'z, km', 111);

// 3d view, hidden axes over the screen plane
const viewPanel = { x: xAxes.length, y: yAxes.length };
xAxes.push({ gridIndex: 3, type: 'value', min: -2.2, max: 2.1, show: false });
yAxes.push({ gridIndex: 3, type: 'value', min: -1.7, max: 1.2, show: false });

const viewTicks = [];
zTickV.forEach(v => viewTicks.push([-1.68, v, -1.735, v + 0.008]));
yTickU.forEach((u, i) => viewTicks.push([u, yTickV[i], u - 0.05, yTickV[i] - 0.018]));
xTickU.forEach((u, i) => viewTicks.push([u, xTickV[i], u + 0.058, xTickV[i] - 0.003]));

const viewLabelItems = [];
zTickV.forEach((v, i) => viewLabelItems.push({ text: zTickLabels[i], u: -1.8, v: v, align: 'right' }));
yTickLabels.forEach((t, i) => viewLabelItems.push({ text: t, u: yLabelU[i], v: yLabelV[i] }));
xTickLabels.forEach((t, i) => viewLabelItems.push({ text: t, u: xLabelU[i], v: xLabelV[i] }));
viewLabelItems.push({ text: 'y, km', u: -0.64, v: -1.617, size: NAME_FS });
viewLabelItems.push({ text: 'x, km', u: 1.31, v: -1.58, size: NAME_FS });
viewLabelItems.push({ text: 'z, km', u: -2.14, v: -0.098, rotate: Math.PI / 2, size: NAME_FS });

// the x10^4 factors next to the axes: left edge and baseline
const factors = [
  [185, 74], [1169, 1058], [1614, 74], [2598, 1058],
  [185, 1228], [1169, 2212], [1629, 1292], [1696, 2180], [2866, 2139]
];
function factorText(text, x, baseline, size) {
  return {
    type: 'text', x: x, y: baseline + size * 0.2, silent: true,
    style: { text: text, font: size + 'px "' + FONT + '"', fill: TEXT, align: 'left', verticalAlign: 'bottom' }
  };
}
const factorGraphics = [];
factors.forEach(f => {
  factorGraphics.push(factorText('×', f[0] - 2, f[1] + 6, 54));
  factorGraphics.push(factorText('10', f[0] + 35, f[1], FS));
  factorGraphics.push(factorText('4', f[0] + 87, f[1] - 23, 33));
});

const chart = echarts.init(document.getElementById('chart'));
chart.setOption({
  backgroundColor: '#fff',
  animation: false,
  grid: grids,
  xAxis: xAxes,
  yAxis: yAxes,
  graphic: factorGraphics,
  series: [
    area(xyPanel, mirrored(xyOuterX, xyOuterY), '#000', 0.3),
    area(xyPanel, mirrored(xyInnerX, xyInnerY), '#fff', 0.3),
    gaps(xyPanel, xyGaps),
    orbit(xyPanel, zip(orbitX, orbitY), 6),

    area(yzPanel, yzWedge, '#000'),
    area(yzPanel, yzWedgeTurned, '#000'),
    strokes(yzPanel, yzSolid, '#fff', 1),
    strokes(yzPanel, yzDotted, '#fff', 1, [1.5, 4]),
    orbit(yzPanel, zip(orbitY, orbitZ), 6),

    area(xzPanel, mirrored(xzOuterX, xzOuterZ), '#000', 0.3),
    gaps(xzPanel, rowsToSegments(xzUpperRows)),
    gaps(xzPanel, rowsToSegments(xzLowerRows)),
    orbit(xzPanel, zip(orbitX, orbitZ), 5),

    area(viewPanel, zip(viewOutlineU, viewOutlineV), '#000', 0.3),
    area(viewPanel, zip(viewHoleU, viewHoleV), '#fff'),
    orbit(viewPanel, viewOrbit, 4),
    strokes(viewPanel, viewAxisLines, TEXT, 2),
    strokes(viewPanel, viewTicks, TEXT, 2),
    viewTexts(viewPanel, viewLabelItems)
  ]
});
</script>
</body>
</html>
